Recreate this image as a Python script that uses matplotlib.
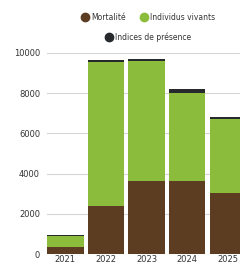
import matplotlib.pyplot as plt
import numpy as np
from matplotlib.lines import Line2D

years = ["2021", "2022", "2023", "2024", "2025"]
mortalite = [330, 2400, 3630, 3620, 3050]
vivants = [590, 7160, 5970, 4410, 3680]
indices = [50, 100, 100, 200, 90]

c_mort = "#5c3d22"
c_viv = "#8cbc3c"
c_ind = "#262a2d"

fig = plt.figure(figsize=(2.4, 2.64), dpi=100)
ax = fig.add_axes([47 / 240, 10 / 264, 1 - 47 / 240, (254 - 53) / 264])

x = np.arange(len(years))
w = 0.9
m = np.array(mortalite)
v = np.array(vivants)
ax.bar(x, m, w, color=c_mort, zorder=2)
ax.bar(x, v, w, bottom=m, color=c_viv, zorder=2)
ax.bar(x, indices, w, bottom=m + v, color=c_ind, zorder=2)

ax.set_xlim(-0.45, 4.3)
ax.set_ylim(0, 10000)
ax.set_yticks([0, 2000, 4000, 6000, 8000, 10000])
ax.set_xticks(x)
ax.set_xticklabels(years)
ax.grid(axis="y", color="#d6d6d6", lw=0.8, zorder=0)
for s in ax.spines.values():
    s.set_visible(False)
ax.tick_params(length=0, labelsize=6, colors="#333333")
ax.tick_params(axis="y", pad=5)
ax.tick_params(axis="x", pad=1)

def handle(c):
    return Line2D([], [], marker="o", ls="", color=c, markersize=6)

fig.legend([handle(c_mort), handle(c_viv)], ["Mortalité", "Individus vivants"],
           loc="center", bbox_to_anchor=(148 / 240, 1 - 17 / 264), ncol=2,
           frameon=False, fontsize=5.5, handletextpad=0.3, columnspacing=1.9,
           handlelength=1.0, labelcolor="#333333")
fig.legend([handle(c_ind)], ["Indices de présence"],
           loc="center", bbox_to_anchor=(148 / 240, 1 - 37 / 264),
           frameon=False, fontsize=5.5, handletextpad=0.3, handlelength=1.0,
           labelcolor="#333333")

fig.savefig("out.png", dpi=100)
